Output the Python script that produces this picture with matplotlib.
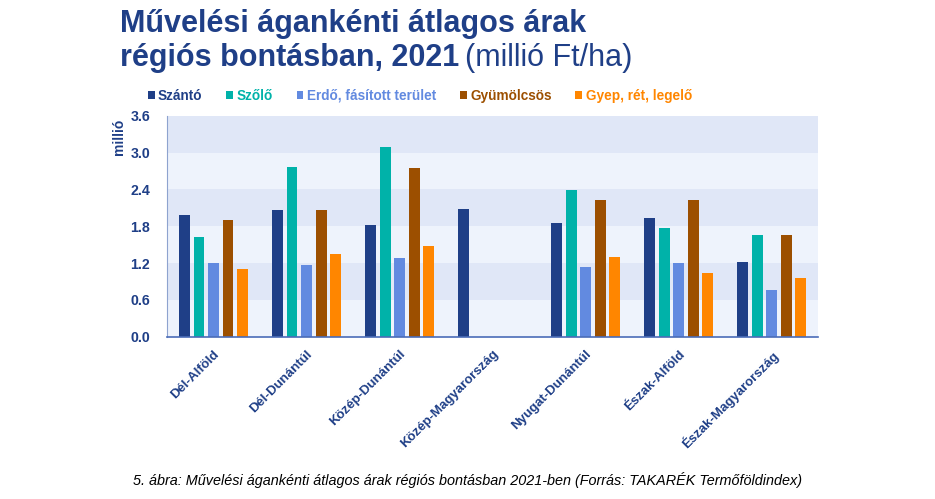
import numpy as np
import matplotlib.pyplot as plt

plt.rcParams['font.family'] = ['Liberation Sans', 'DejaVu Sans']

# adatok (millió Ft/ha)
regiok = ['Dél-Alföld', 'Dél-Dunántúl', 'Közép-Dunántúl', 'Közép-Magyarország',
          'Nyugat-Dunántúl', 'Észak-Alföld', 'Észak-Magyarország']
szanto = [1.98, 2.07, 1.82, 2.08, 1.85, 1.94, 1.22]
szolo = [1.62, 2.76, 3.09, 0, 2.39, 1.77, 1.66]
erdo = [1.20, 1.17, 1.28, 0, 1.14, 1.21, 0.77]
gyumolcsos = [1.90, 2.06, 2.75, 0, 2.23, 2.23, 1.66]
gyep = [1.10, 1.35, 1.48, 0, 1.30, 1.04, 0.96]

nevek = ['Szántó', 'Szőlő', 'Erdő, fásított terület', 'Gyümölcsös', 'Gyep, rét, legelő']
szinek = ['#1f3f87', '#00b2a9', '#628ae0', '#9c4f00', '#ff8600']
sorok = [szanto, szolo, erdo, gyumolcsos, gyep]

kek = '#1f3f87'

fig = plt.figure(figsize=(9.35, 4.99), dpi=100)
ax = fig.add_axes([0.1786, 0.325, 0.6964, 0.443])

# sávos háttér
for i, y0 in enumerate(np.arange(0, 3.6, 0.6)):
    ax.axhspan(y0, y0 + 0.6, color='#eef3fc' if i % 2 == 0 else '#e0e7f7', lw=0, zorder=0)

x = np.arange(len(regiok))
lepes = 0.156
for i, (vals, nev, c) in enumerate(zip(sorok, nevek, szinek)):
    ax.bar(x + (i - 2) * lepes, vals, width=0.118, color=c, label=nev, zorder=2)

ax.set_xlim(-0.5, len(regiok) - 0.5)
ax.set_ylim(0, 3.6)
ax.set_yticks(np.arange(0, 3.61, 0.6))
ax.set_yticklabels([f'{v:.1f}' for v in np.arange(0, 3.61, 0.6)])
ax.set_xticks(x)
ax.set_xticklabels(regiok, rotation=45, ha='right', rotation_mode='anchor')
ax.tick_params(axis='both', length=0, labelcolor=kek, labelsize=9.5)
ax.tick_params(axis='y', labelsize=10.2, pad=12)
for t in ax.get_xticklabels() + ax.get_yticklabels():
    t.set_fontweight('bold')
ax.tick_params(axis='x', pad=8)

for s in ['top', 'right']:
    ax.spines[s].set_visible(False)
ax.spines['left'].set_color('#8ea3cf')
ax.spines['bottom'].set_color('#4a6cb8')
ax.spines['bottom'].set_linewidth(1.2)

ax.set_ylabel('millió', color=kek, fontweight='bold', fontsize=10)
ax.yaxis.set_label_coords(-0.063, 0.905)

# cím
fig.text(0.128, 0.935, 'Művelési ágankénti átlagos árak', color=kek, fontsize=22,
         fontweight='bold', va='baseline')
t2 = fig.text(0.128, 0.868, 'régiós bontásban, 2021', color=kek, fontsize=22,
              fontweight='bold', va='baseline')
fig.canvas.draw()
bb = t2.get_window_extent()
fig.text(bb.x1 / fig.bbox.width + 0.007, 0.868, '(millió Ft/ha)', color=kek, fontsize=22,
         va='baseline')

# jelmagyarázat
leg = fig.legend(loc='center left', bbox_to_anchor=(0.145, 0.808), ncol=5, frameon=False,
                 handlelength=0.5, handleheight=0.5, handletextpad=0.25, columnspacing=1.75,
                 prop={'weight': 'bold', 'size': 9.8})
for txt, c in zip(leg.get_texts(), szinek):
    txt.set_color(c)

fig.text(0.5, 0.038, '5. ábra: Művelési ágankénti átlagos árak régiós bontásban 2021-ben '
         '(Forrás: TAKARÉK Termőföldindex)', ha='center', va='center', fontsize=10.4,
         style='italic')

fig.savefig('out.png', dpi=100)
